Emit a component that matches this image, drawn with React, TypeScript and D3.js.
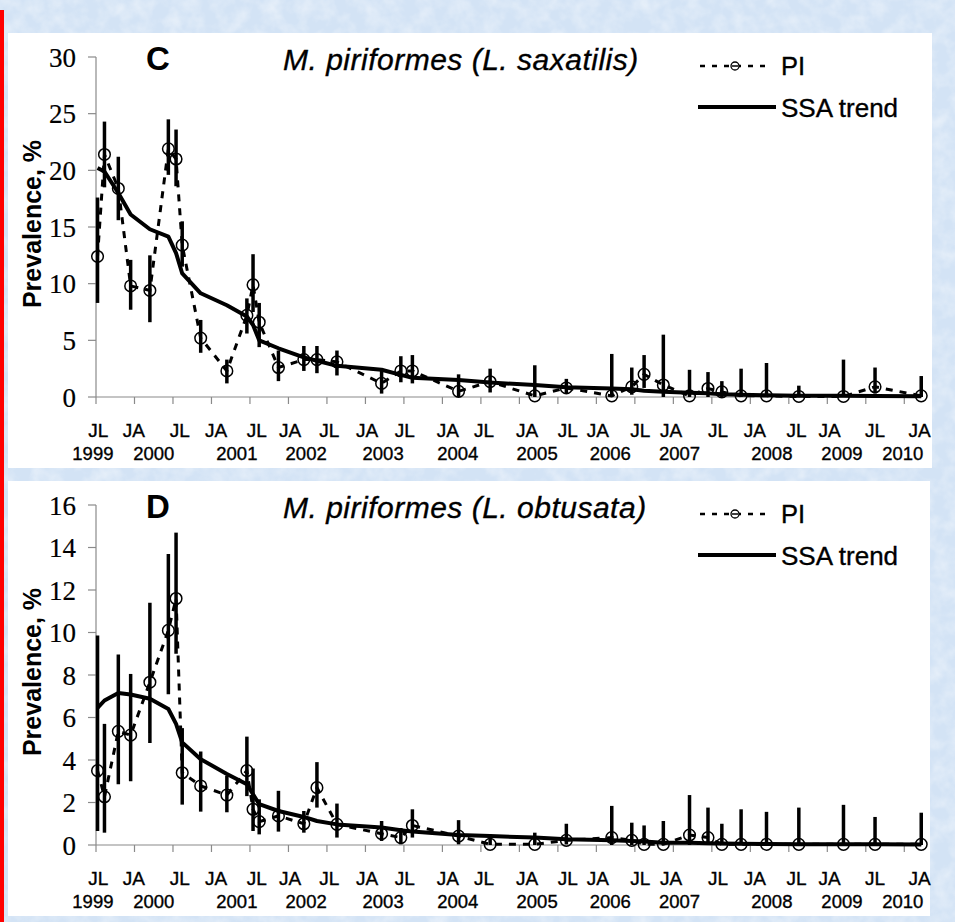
import React from 'react';
import * as d3 from 'd3';

// sampling dates (decimal years), shared by both panels
const sampleDates = [1999.52, 1999.61, 1999.79, 1999.95, 2000.20, 2000.44, 2000.54, 2000.62, 2000.86, 2001.20,
    2001.46, 2001.54, 2001.62, 2001.87, 2002.20, 2002.37, 2002.63, 2003.21, 2003.46, 2003.61,
    2004.21, 2004.62, 2005.20, 2005.61, 2006.20, 2006.46, 2006.62, 2006.87, 2007.21, 2007.45,
    2007.63, 2007.88, 2008.21, 2008.63, 2009.21, 2009.62, 2010.22];

// panel C - L. saxatilis
const saxPI = [12.4, 21.4, 18.4, 9.8, 9.4, 21.9, 21.0, 13.4, 5.2, 2.3, 7.2, 9.9, 6.6, 2.6, 3.3, 3.3, 3.1, 1.2, 2.3, 2.3,
    0.5, 1.35, 0.1, 0.8, 0.1, 0.9, 2.0, 1.06, 0.1, 0.75, 0.45, 0.1, 0.1, 0.05, 0.05, 0.9, 0.1];
const saxHigh = [17.6, 24.3, 21.2, 12.1, 12.5, 24.5, 23.6, 15.5, 6.8, 3.3, 8.7, 12.6, 8.3, 4.1, 4.5, 4.5, 4.1, 2.5, 3.6, 3.7,
    2.0, 2.5, 2.8, 1.6, 3.8, 2.6, 3.7, 5.5, 2.4, 2.2, 1.4, 2.5, 3.0, 1.0, 3.3, 2.6, 1.85];
const saxLow = [8.3, 18.5, 15.6, 7.7, 6.6, 19.6, 18.6, 11.5, 3.9, 1.2, 5.6, 7.5, 4.4, 1.4, 2.3, 2.1, 1.9, 0.3, 1.3, 1.2,
    0, 0.4, 0, 0.35, 0, 0.2, 0.8, 0, 0, 0, 0, 0, 0, 0, 0, 0.3, 0];
const saxSSA = [20.2, 19.9, 18.0, 16.1, 14.8, 14.15, 12.7, 10.9, 9.15, 8.1, 7.1, 6.35, 5.0, 4.3, 3.5, 3.2, 2.75, 2.4, 1.95, 1.7,
    1.5, 1.27, 1.06, 0.85, 0.76, 0.68, 0.56, 0.47, 0.38, 0.32, 0.24, 0.2, 0.15, 0.12, 0.1, 0.08, 0.06];

// panel D - L. obtusata
const obtPI = [3.5, 2.27, 5.35, 5.17, 7.66, 10.1, 11.6, 3.4, 2.78, 2.35, 3.5, 1.68, 1.1, 1.37, 1.0, 2.7, 0.97, 0.53, 0.35, 0.92,
    0.42, 0.03, 0.03, 0.22, 0.35, 0.22, 0.03, 0.03, 0.47, 0.35, 0.03, 0.03, 0.03, 0.03, 0.03, 0.03, 0.03];
const obtHigh = [9.86, 5.7, 8.97, 8.05, 11.4, 13.7, 14.7, 5.5, 4.4, 3.26, 5.1, 3.6, 2.15, 2.55, 1.6, 3.9, 1.95, 1.13, 0.8, 1.68,
    1.17, 0.5, 0.58, 1.0, 1.84, 1.05, 0.92, 1.13, 2.35, 1.76, 1.0, 1.68, 1.56, 1.76, 1.89, 1.32, 1.52];
const obtLow = [0.66, 0.58, 2.86, 3.0, 4.8, 7.1, 9.0, 1.9, 1.57, 1.54, 2.3, 0.66, 0.5, 0.63, 0.58, 1.76, 0.35, 0.19, 0.03, 0.35,
    0.03, 0, 0, 0.03, 0, 0, 0, 0, 0, 0, 0, 0, 0, 0, 0, 0, 0];
const obtSSA = [6.45, 6.8, 7.15, 7.08, 6.88, 6.4, 5.7, 4.83, 4.04, 3.34, 2.86, 2.39, 1.92, 1.6, 1.32, 1.13, 0.97, 0.82, 0.69, 0.63,
    0.47, 0.42, 0.35, 0.27, 0.22, 0.19, 0.16, 0.11, 0.11, 0.08, 0.07, 0.06, 0.05, 0.04, 0.03, 0.03, 0.02];

// axis labels (month / year), placed where the original put them
const monthLabels = ['JL', 'JA', 'JL', 'JA', 'JL', 'JA', 'JL', 'JA', 'JL', 'JA', 'JL',
    'JA', 'JL', 'JA', 'JL', 'JA', 'JL', 'JA', 'JL', 'JA', 'JL', 'JA'];
const monthLabelAt = [1999.53, 1999.99, 2000.59, 2001.06, 2001.59, 2002.02, 2002.53, 2003.02, 2003.51, 2004.07, 2004.54,
    2005.10, 2005.63, 2006.02, 2006.57, 2006.97, 2007.58, 2008.06, 2008.60, 2009.03, 2009.62, 2010.20];
const yearLabels = ['1999', '2000', '2001', '2002', '2003', '2004', '2005', '2006', '2007', '2008', '2009', '2010'];
const yearLabelAt = [1999.46, 2000.25, 2001.33, 2002.23, 2003.23, 2004.20, 2005.23, 2006.18, 2007.08, 2008.28, 2009.19, 2009.98];

const SANS = 'Liberation Sans, Arial, sans-serif';
const SERIF = 'Liberation Serif, Times New Roman, serif';
const AXIS_GREY = '#8a8a8a';
// the source figure is a blurry upscale, so text gets a hairline stroke to look as heavy
const heavy = {stroke: '#000', strokeWidth: 0.35};

const x = d3.scaleLinear().domain([1999.5, 2010.23]).range([96, 922]);
const xTicks = d3.range(0, 22).map((i) => 1999.5 + i * 0.5);

const Panel = ({offset, yMax, yStep, letter, host, pi, high, low, ssa, panelWidth}) => {
    const y = d3.scaleLinear().domain([0, yMax]).range([397 + offset, 57 + offset]);
    const yTicks = d3.range(0, yMax + 0.001, yStep);
    const zero = y(0);

    const piLine = d3.line().x((d, i) => x(sampleDates[i])).y((d) => y(d))(pi);
    const ssaLine = d3.line().x((d, i) => x(sampleDates[i])).y((d) => y(d))(ssa);

    return <g>
        <rect x={8} y={33 + offset} width={panelWidth} height={435} fill="#fff"/>

        {/* y axis */}
        <line x1={x.range()[0]} x2={x.range()[0]} y1={y(yMax)} y2={zero} stroke={AXIS_GREY} strokeWidth={1.2}/>
        {yTicks.map((t) => <g key={t}>
            <line x1={88} x2={96} y1={y(t)} y2={y(t)} stroke={AXIS_GREY} strokeWidth={1.2}/>
            <text x={76} y={y(t) + 9.5} textAnchor="end"
                  style={{fontFamily: SERIF, fontSize: '27px', stroke: '#000', strokeWidth: 0.2}}>{t}</text>
        </g>)}
        <text transform={`translate(41 ${224 + offset}) rotate(-90)`} textAnchor="middle"
              style={{fontFamily: SANS, fontWeight: 'bold', fontSize: '25px'}}>Prevalence, %</text>

        {/* x axis */}
        <line x1={x.range()[0]} x2={x.range()[1]} y1={zero} y2={zero} stroke={AXIS_GREY} strokeWidth={1.2}/>
        {xTicks.map((t) => <line key={t} x1={x(t)} x2={x(t)} y1={zero} y2={zero + 7}
                                 stroke={AXIS_GREY} strokeWidth={1.2}/>)}
        {monthLabels.map((m, i) => <text key={'m' + i} x={x(monthLabelAt[i])} y={437 + offset} textAnchor="middle"
                                         style={{fontFamily: SANS, fontSize: '19px', ...heavy}}>{m}</text>)}
        {yearLabels.map((yr, i) => <text key={'y' + i} x={x(yearLabelAt[i])} y={460 + offset} textAnchor="middle"
                                         style={{fontFamily: SANS, fontSize: '18.5px', ...heavy}}>{yr}</text>)}

        {/* error bars */}
        {sampleDates.map((d, i) => <line key={'e' + i} x1={x(d)} x2={x(d)} y1={y(high[i])} y2={y(low[i])}
                                         stroke="#000" strokeWidth={3.5}/>)}
        {/* observed prevalence */}
        <path d={piLine} fill="none" stroke="#000" strokeWidth={3} strokeDasharray="7 7"/>
        {pi.map((v, i) => <circle key={'c' + i} cx={x(sampleDates[i])} cy={y(v)} r={5.8}
                                  fill="none" stroke="#000" strokeWidth={1.5}/>)}
        {/* SSA trend */}
        <path d={ssaLine} fill="none" stroke="#000" strokeWidth={4} strokeLinejoin="round"/>

        {/* labels */}
        <text x={158} y={70 + offset} textAnchor="middle"
              style={{fontFamily: SANS, fontWeight: 'bold', fontSize: '33px'}}>{letter}</text>
        <text x={283} y={70 + offset} letterSpacing={0.5}
              style={{fontFamily: SANS, fontStyle: 'italic', fontSize: '30px', ...heavy}}>M. piriformes ({host})</text>

        {/* legend */}
        <line x1={700} x2={772} y1={66 + offset} y2={66 + offset} stroke="#000" strokeWidth={2.5} strokeDasharray="5 7"/>
        <circle cx={735} cy={66 + offset} r={4} fill="#fff" stroke="#000" strokeWidth={1.3}/>
        <line x1={732} x2={738} y1={66 + offset} y2={66 + offset} stroke="#000" strokeWidth={1.5}/>
        <text x={781} y={75 + offset} style={{fontFamily: SANS, fontSize: '25.5px', ...heavy}}>PI</text>
        <line x1={698} x2={776} y1={107 + offset} y2={107 + offset} stroke="#000" strokeWidth={4}/>
        <text x={781} y={117 + offset} style={{fontFamily: SANS, fontSize: '26px', ...heavy}}>SSA trend</text>
    </g>;
};

export default function App() {
    return <div style={{position: 'absolute', left: 0, top: 0}}>
        <svg width={955} height={922} style={{display: 'block'}}>
            <defs>
                <filter id="paper" x="0" y="0" width="100%" height="100%">
                    <feTurbulence type="fractalNoise" baseFrequency="0.06" numOctaves={3} seed={7}/>
                    <feColorMatrix type="matrix" values="0 0 0 0 1  0 0 0 0 1  0 0 0 0 1  1.5 0 0 0 -0.55"/>
                </filter>
            </defs>
            <rect width={955} height={922} fill="#d3e3f5"/>
            <rect width={955} height={922} filter="url(#paper)" opacity={0.55}/>
            <rect x={0} y={10} width={4} height={912} fill="#ff0000"/>

            <Panel offset={0} yMax={30} yStep={5} letter="C" host="L. saxatilis"
                   pi={saxPI} high={saxHigh} low={saxLow} ssa={saxSSA} panelWidth={924}/>
            <Panel offset={448} yMax={16} yStep={2} letter="D" host="L. obtusata"
                   pi={obtPI} high={obtHigh} low={obtLow} ssa={obtSSA} panelWidth={922}/>
        </svg>
    </div>;
}
